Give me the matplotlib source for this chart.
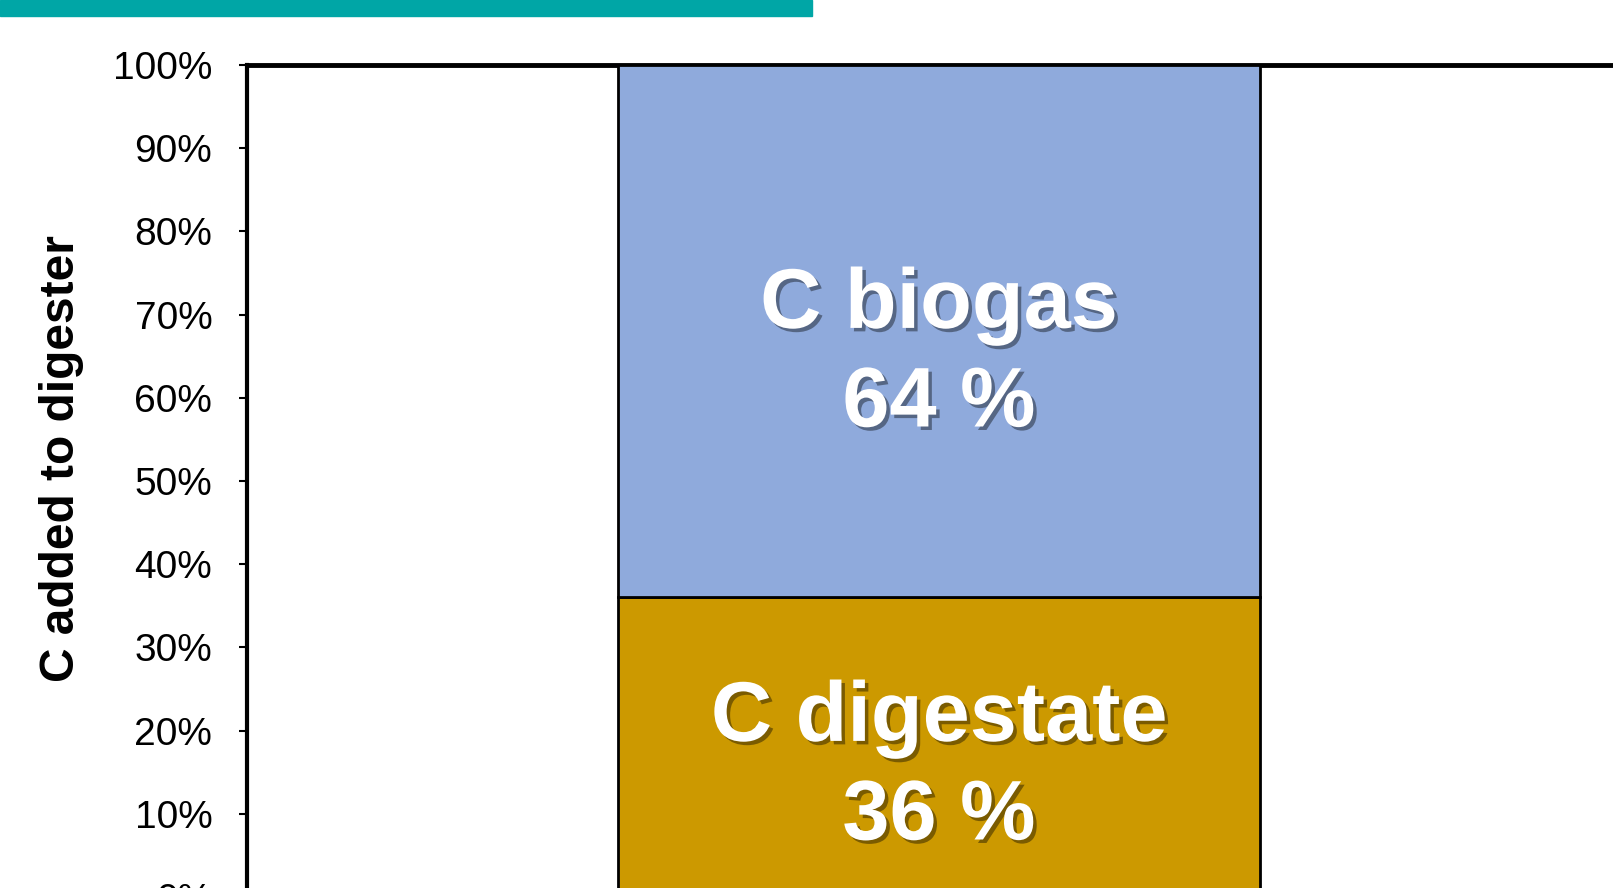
import matplotlib.pyplot as plt
import matplotlib.patheffects as pe
from matplotlib.ticker import PercentFormatter
import numpy as np

plt.rcParams['font.family'] = ['Liberation Sans', 'DejaVu Sans']

# share of C added to the digester
categories = ['C digestate', 'C biogas']
shares = [36, 64]
colors = ['#CC9900', '#8FAADC']
ticks = np.arange(0, 101, 10)

label_frac = [0.43, 0.455]  # where the label sits inside each segment

fig = plt.figure(figsize=(16.13, 8.88), dpi=100)

# teal title band (title itself cut off at the top)
fig.patches.append(plt.Rectangle((0, 1 - 16.5 / 888), 812 / 1613, 16.5 / 888,
                                 transform=fig.transFigure, color='#00A6A6', zorder=0))

ax = fig.add_axes([247 / 1613, -9 / 888, 1384 / 1613, 832 / 888])

bottom = 0
for name, val, col, fr in zip(categories, shares, colors, label_frac):
    ax.bar(0, val, bottom=bottom, width=0.464, color=col, edgecolor='black', linewidth=2, zorder=3)
    t = ax.text(0, bottom + val * fr, name + '\n' + str(val) + ' %', ha='center', va='center',
                color='white', fontsize=61, fontweight='bold', linespacing=1.3, zorder=4)
    t.set_path_effects([pe.withSimplePatchShadow(offset=(2.5, -2.5), shadow_rgbFace='black', alpha=0.4)])
    bottom += val

ax.set_xlim(-0.5, 0.5)
ax.set_ylim(0, 100)
ax.set_yticks(ticks)
ax.yaxis.set_major_formatter(PercentFormatter(decimals=0))
ax.tick_params(axis='y', labelsize=28, length=6, width=1.5, pad=19, direction='out')
ax.set_xticks([])

ax.spines['left'].set_linewidth(3)
ax.spines['top'].set_linewidth(3.5)
ax.spines['right'].set_visible(False)
ax.spines['bottom'].set_linewidth(3)

fig.text(62 / 1613, 1 - 459 / 888, 'C added to digester', rotation=90, ha='center', va='center',
         fontsize=34.5, fontweight='bold')

fig.savefig('out.png', dpi=100)
